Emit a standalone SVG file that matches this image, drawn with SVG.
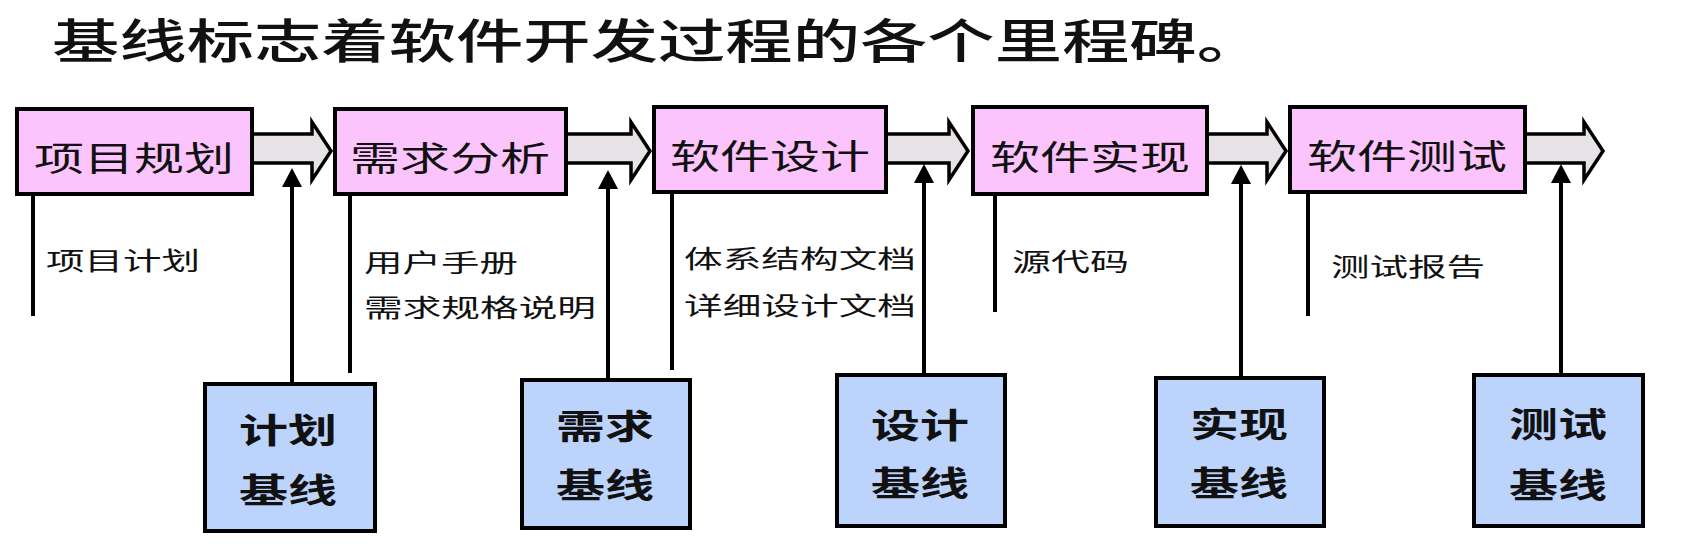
<svg xmlns="http://www.w3.org/2000/svg" width="1686" height="544" viewBox="0 0 1686 544">
<style>
text{font-family:"Noto Sans CJK SC","Noto Sans",sans-serif;fill:#111}
.title{font-size:47px;font-weight:500}
.stage rect{fill:#fcc4fc;stroke:#000;stroke-width:4}
.stage text{font-size:34px}
.base rect{fill:#bcd4fc;stroke:#000;stroke-width:4}
.base text{font-size:34px;font-weight:600}
.lbl{font-size:25px}
.flow{fill:#e6e2e6;stroke:#000;stroke-width:3.5;stroke-linejoin:miter}
.out{stroke:#000;stroke-width:4;fill:none}
.up{stroke:#000;stroke-width:4;fill:none}
.head{fill:#000}
</style>
<rect width="1686" height="544" fill="#fff"/>
<text class="title" x="52" y="58" textLength="1212" lengthAdjust="spacingAndGlyphs">基线标志着软件开发过程的各个里程碑。</text>

<g id="connectors">
  <path class="flow" d="M254,134 H312 V122 L331,151 L312,180 V163 H254"/>
  <path class="flow" d="M568,134 H631 V122 L650,151 L631,180 V163 H568"/>
  <path class="flow" d="M888,134 H949 V122 L968,151 L949,180 V163 H888"/>
  <path class="flow" d="M1209,134 H1267 V122 L1286,151 L1267,180 V163 H1209"/>
  <path class="flow" d="M1527,134 H1584 V122 L1603,151 L1584,180 V163 H1527"/>

  <line class="out" x1="33" y1="194" x2="33" y2="316"/>
  <line class="out" x1="350" y1="194" x2="350" y2="373"/>
  <line class="out" x1="672" y1="192" x2="672" y2="370"/>
  <line class="out" x1="995" y1="192" x2="995" y2="312"/>
  <line class="out" x1="1308" y1="192" x2="1308" y2="316"/>

  <line class="up" x1="292" y1="382" x2="292" y2="184"/>
  <polygon class="head" points="292,168 282,187 302,187"/>
  <line class="up" x1="608" y1="378" x2="608" y2="186"/>
  <polygon class="head" points="608,170 598,189 618,189"/>
  <line class="up" x1="924" y1="373" x2="924" y2="180"/>
  <polygon class="head" points="924,164 914,183 934,183"/>
  <line class="up" x1="1241" y1="376" x2="1241" y2="182"/>
  <polygon class="head" points="1241,165 1231,184 1251,184"/>
  <line class="up" x1="1561" y1="373" x2="1561" y2="181"/>
  <polygon class="head" points="1561,164 1551,183 1571,183"/>
</g>

<g id="stage-plan" class="stage">
  <rect x="17" y="109" width="235" height="85"/>
  <text x="34" y="171" textLength="200" lengthAdjust="spacingAndGlyphs">项目规划</text>
</g>
<g id="stage-req" class="stage">
  <rect x="335" y="109" width="231" height="85"/>
  <text x="350" y="171" textLength="200" lengthAdjust="spacingAndGlyphs">需求分析</text>
</g>
<g id="stage-design" class="stage">
  <rect x="654" y="107" width="232" height="85"/>
  <text x="670" y="169" textLength="200" lengthAdjust="spacingAndGlyphs">软件设计</text>
</g>
<g id="stage-impl" class="stage">
  <rect x="973" y="107" width="234" height="87"/>
  <text x="990" y="170" textLength="200" lengthAdjust="spacingAndGlyphs">软件实现</text>
</g>
<g id="stage-test" class="stage">
  <rect x="1290" y="107" width="235" height="85"/>
  <text x="1307" y="169" textLength="200" lengthAdjust="spacingAndGlyphs">软件测试</text>
</g>

<g id="labels">
  <text class="lbl" x="46" y="270" textLength="154" lengthAdjust="spacingAndGlyphs">项目计划</text>
  <text class="lbl" x="364" y="272" textLength="154" lengthAdjust="spacingAndGlyphs">用户手册</text>
  <text class="lbl" x="364" y="317" textLength="232" lengthAdjust="spacingAndGlyphs">需求规格说明</text>
  <text class="lbl" x="684" y="268" textLength="232" lengthAdjust="spacingAndGlyphs">体系结构文档</text>
  <text class="lbl" x="684" y="315" textLength="232" lengthAdjust="spacingAndGlyphs">详细设计文档</text>
  <text class="lbl" x="1012" y="271" textLength="117" lengthAdjust="spacingAndGlyphs">源代码</text>
  <text class="lbl" x="1331" y="276" textLength="154" lengthAdjust="spacingAndGlyphs">测试报告</text>
</g>

<g id="base-plan" class="base">
  <rect x="205" y="384" width="170" height="147"/>
  <text x="239" y="443" textLength="98" lengthAdjust="spacingAndGlyphs">计划</text>
  <text x="239" y="503" textLength="98" lengthAdjust="spacingAndGlyphs">基线</text>
</g>
<g id="base-req" class="base">
  <rect x="522" y="380" width="168" height="148"/>
  <text x="556" y="439" textLength="98" lengthAdjust="spacingAndGlyphs">需求</text>
  <text x="556" y="498" textLength="98" lengthAdjust="spacingAndGlyphs">基线</text>
</g>
<g id="base-design" class="base">
  <rect x="837" y="375" width="168" height="151"/>
  <text x="871" y="438" textLength="98" lengthAdjust="spacingAndGlyphs">设计</text>
  <text x="871" y="496" textLength="98" lengthAdjust="spacingAndGlyphs">基线</text>
</g>
<g id="base-impl" class="base">
  <rect x="1156" y="378" width="168" height="148"/>
  <text x="1190" y="437" textLength="98" lengthAdjust="spacingAndGlyphs">实现</text>
  <text x="1190" y="496" textLength="98" lengthAdjust="spacingAndGlyphs">基线</text>
</g>
<g id="base-test" class="base">
  <rect x="1474" y="375" width="169" height="151"/>
  <text x="1509" y="437" textLength="98" lengthAdjust="spacingAndGlyphs">测试</text>
  <text x="1509" y="498" textLength="98" lengthAdjust="spacingAndGlyphs">基线</text>
</g>
</svg>
